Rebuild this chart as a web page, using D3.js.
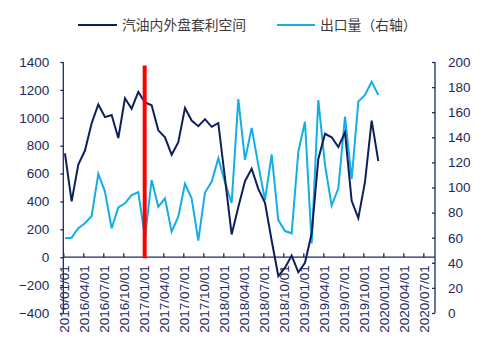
<!DOCTYPE html>
<html>
<head>
<meta charset="utf-8">
<script src="https://cdn.jsdelivr.net/npm/d3@7/dist/d3.min.js"></script>
<style>
  html, body { margin: 0; padding: 0; background: #fff; }
  svg { display: block; }
</style>
</head>
<body>
<svg id="chart" width="493" height="361"></svg>
<script>
// ---- data ----
const months = [
  "2016-01","2016-02","2016-03","2016-04","2016-05","2016-06","2016-07","2016-08","2016-09","2016-10","2016-11","2016-12",
  "2017-01","2017-02","2017-03","2017-04","2017-05","2017-06","2017-07","2017-08","2017-09","2017-10","2017-11","2017-12",
  "2018-01","2018-02","2018-03","2018-04","2018-05","2018-06","2018-07","2018-08","2018-09","2018-10","2018-11","2018-12",
  "2019-01","2019-02","2019-03","2019-04","2019-05","2019-06","2019-07","2019-08","2019-09","2019-10","2019-11","2019-12"
];
const spread = [
  745, 400, 665, 765, 960, 1095, 1005, 1020, 855, 1140, 1065, 1185,
  1110, 1090, 910, 860, 735, 825, 1070, 980, 940, 990, 935, 962,
  565, 163, 360, 545, 635, 490, 390, 120, -135, -75, 12, -108,
  -40, 170, 705, 885, 860, 790, 895, 405, 280, 540, 980, 690
];
const exportsVol = [
  59.5, 60, 67.5, 71.5, 77.3, 110.8, 96.7, 67.5, 84.2, 87.4, 94, 96.2,
  60, 106, 84.7, 91.4, 64.8, 76.7, 103, 91.4, 57.6, 96, 104.6, 123.3,
  104, 87.7, 170.5, 122, 147.5, 118, 90, 126.4, 74, 65.3, 63.5, 128.5,
  152.4, 55.5, 169.7, 118, 85.5, 99.4, 156.4, 106.8, 168.4, 173.7, 184.3, 173.7
];
const xTickLabels = [
  "2016/01/01","2016/04/01","2016/07/01","2016/10/01",
  "2017/01/01","2017/04/01","2017/07/01","2017/10/01",
  "2018/01/01","2018/04/01","2018/07/01","2018/10/01",
  "2019/01/01","2019/04/01","2019/07/01","2019/10/01",
  "2020/01/01","2020/04/01","2020/07/01"
];
const leftTicks = [-400, -200, 0, 200, 400, 600, 800, 1000, 1200, 1400];
const rightTicks = [0, 20, 40, 60, 80, 100, 120, 140, 160, 180, 200];
const legendNames = ["汽油内外盘套利空间", "出口量（右轴）"];
const markerMonth = "2017-01";

(function () {
  // ---- layout ----
  const navy = "#0e1f5b";
  const light = "#14aee6";
  const axisColor = "#1b2a5c";
  const textColor = "#1b2a5c";
  const numFont = "'Liberation Sans', Arial, sans-serif";
  const cjkFont = "'Noto Sans CJK SC', 'Liberation Sans', sans-serif";

  const pLeft = 63.3, pRight = 435, pTop = 62, pBottom = 313;
  const monthOffset = 0.25;

  const svg = d3.select("#chart");

  const x = d3.scaleLinear().domain([0, 55.75]).range([pLeft, pRight]);
  const yL = d3.scaleLinear().domain([-400, 1400]).range([pBottom, pTop]);
  const yR = d3.scaleLinear().domain([0, 200]).range([pBottom, pTop]);

  const xPos = (i) => x(i + monthOffset);

  // ---- axes ----
  const gL = svg.append("g").attr("transform", `translate(${pLeft},0)`)
    .call(d3.axisLeft(yL).tickValues(leftTicks).tickSize(3).tickPadding(11).tickFormat(d3.format("d")));
  gL.select(".domain").remove();
  gL.selectAll(".tick line").attr("stroke", axisColor).attr("stroke-width", 1.3);
  gL.selectAll(".tick text").attr("fill", textColor).style("font-family", numFont).style("font-size", "13.5px");

  const gR = svg.append("g").attr("transform", `translate(${pRight},0)`)
    .call(d3.axisRight(yR).tickValues(rightTicks).tickSize(-3).tickPadding(13).tickFormat(d3.format("d")));
  gR.select(".domain").attr("stroke", axisColor).attr("stroke-width", 1.3).attr("d", `M0,${yR(200)}V${yR(0)}`);
  gR.selectAll(".tick line").attr("stroke", axisColor).attr("stroke-width", 1.3);
  gR.selectAll(".tick text").attr("fill", textColor).style("font-family", numFont).style("font-size", "13.5px");

  const y0 = yL(0);
  const xTickIdx = xTickLabels.map((d, k) => k * 3);
  const gX = svg.append("g").attr("transform", `translate(0,${y0})`)
    .call(d3.axisBottom(x).tickValues(xTickIdx).tickSize(-4).tickFormat((d, k) => xTickLabels[k]));
  gX.select(".domain").attr("stroke", axisColor).attr("stroke-width", 1.3).attr("d", `M${pLeft},0H${pRight}`);
  gX.selectAll(".tick line").attr("stroke", axisColor).attr("stroke-width", 1.3);
  gX.selectAll(".tick text")
    .attr("fill", textColor)
    .style("font-family", numFont).style("font-size", "13.5px")
    .attr("text-anchor", "end")
    .attr("transform", "rotate(-90)")
    .attr("x", -8)
    .attr("y", 0.5)
    .attr("dy", "0.35em");

  // left axis line on top of labels
  svg.append("line")
    .attr("x1", pLeft).attr("x2", pLeft).attr("y1", yL(1400)).attr("y2", yL(-400))
    .attr("stroke", axisColor).attr("stroke-width", 1.3);

  // ---- lines ----
  const lineL = d3.line().x((d, i) => xPos(i)).y(d => yL(d));
  const lineR = d3.line().x((d, i) => xPos(i)).y(d => yR(d));

  svg.append("path")
    .attr("d", lineR(exportsVol))
    .attr("fill", "none")
    .attr("stroke", light)
    .attr("stroke-width", 2);

  svg.append("path")
    .attr("d", lineL(spread))
    .attr("fill", "none")
    .attr("stroke", navy)
    .attr("stroke-width", 2);

  // red marker line
  const mi = months.indexOf(markerMonth);
  svg.append("line")
    .attr("x1", xPos(mi) - 0.3).attr("x2", xPos(mi) - 0.3)
    .attr("y1", yL(1375)).attr("y2", yL(0) + 1)
    .attr("stroke", "#ff0000")
    .attr("stroke-width", 4);

  // ---- legend ----
  const legendItems = [
    { name: legendNames[0], color: navy, x1: 78, x2: 117, tx: 122 },
    { name: legendNames[1], color: light, x1: 277, x2: 315, tx: 320 }
  ];
  const lg = svg.append("g");
  legendItems.forEach(it => {
    lg.append("line")
      .attr("x1", it.x1).attr("x2", it.x2).attr("y1", 25).attr("y2", 25)
      .attr("stroke", it.color).attr("stroke-width", 2);
    lg.append("text")
      .attr("x", it.tx).attr("y", 25).attr("dy", "0.36em")
      .attr("fill", "#3a3a3a")
      .style("font-family", cjkFont).style("font-size", "13.8px")
      .text(it.name);
  });
})();
</script>
</body>
</html>
